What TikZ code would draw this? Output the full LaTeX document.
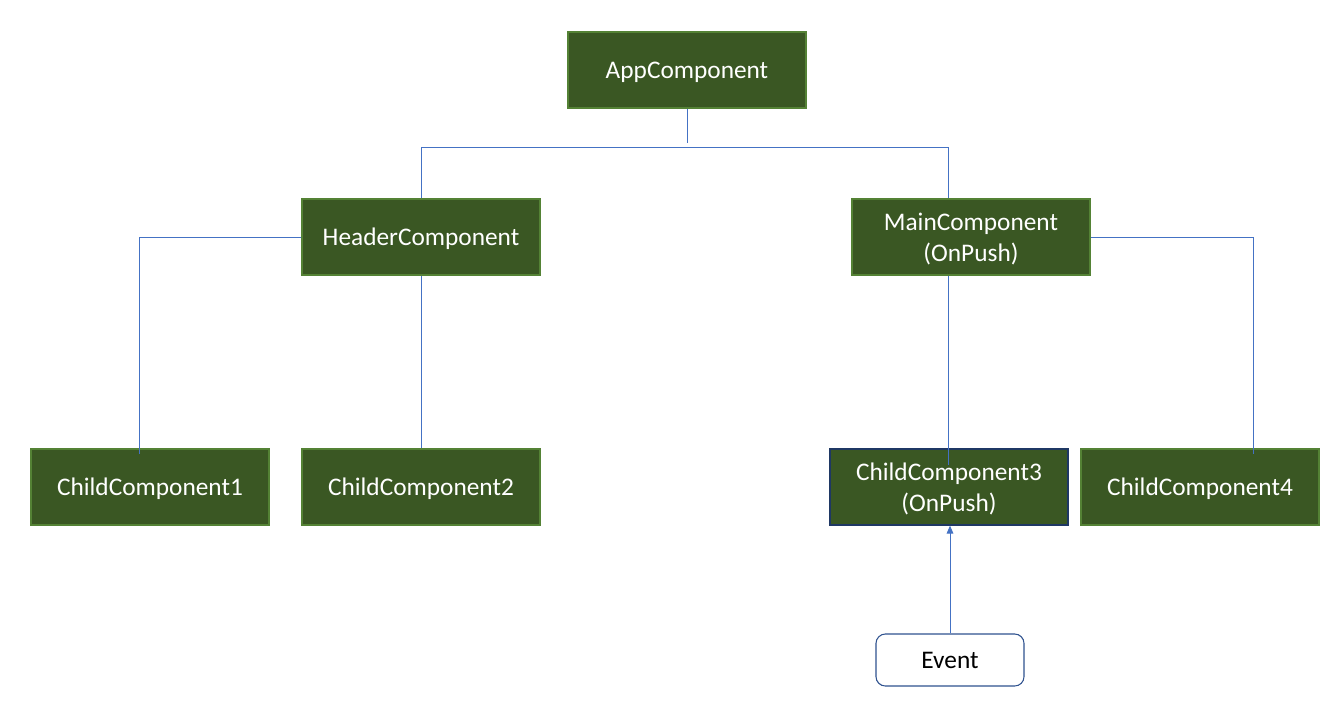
\documentclass[tikz,border=0pt]{standalone}
\usepackage{fontspec}
\setmainfont{Carlito}
\usetikzlibrary{arrows.meta}
\definecolor{boxfill}{HTML}{3A5723}
\definecolor{boxline}{HTML}{548235}
\definecolor{conn}{HTML}{4472C4}
\definecolor{navy}{HTML}{2F528F}
\definecolor{darknavy}{HTML}{1F3864}
\tikzset{
  comp/.style={draw=boxline, line width=0.9pt, fill=boxfill, text=white,
    minimum width=178.5pt, minimum height=57pt, inner sep=0pt, align=center,
    text depth=0pt, font=\fontsize{19}{23.5}\selectfont},
  eventbox/.style={draw=navy, line width=0.8pt, fill=white, text=black, rounded corners=7pt,
    minimum width=111pt, minimum height=39pt, inner sep=0pt, align=center,
    text depth=0pt, font=\fontsize{19}{23.5}\selectfont},
  wire/.style={draw=conn, line width=0.75pt},
}
\begin{document}
\begin{tikzpicture}[x=0.75pt, y=-0.75pt]
\useasboundingbox (0,0) rectangle (1333,704);
\node[comp] (app) at (687,70) {AppComponent};
\node[comp] (hdr) at (421,237) {HeaderComponent};
\node[comp] (main) at (971,237) {MainComponent\\(OnPush)};
\node[comp] (c1) at (150,487) {ChildComponent1};
\node[comp] (c2) at (421,487) {ChildComponent2};
\node[comp, draw=darknavy] (c3) at (949,487) {ChildComponent3\\(OnPush)};
\node[comp] (c4) at (1200,487) {ChildComponent4};
\node[eventbox] (ev) at (950,660) {Event};
\coordinate (jn) at (687,143);
\draw[wire] (app.south) -- (jn);
\draw[wire] (hdr.north) -- ++(0,-51) -| ([xshift=-17.25pt]main.north);
\draw[wire] (hdr.west) -| ([xshift=-8.25pt,yshift=-4.5pt]c1.north);
\draw[wire] (hdr.south) -- (c2.north);
\draw[wire] ([xshift=-17.25pt]main.south) -- ([xshift=-0.75pt,yshift=-12.75pt]c3.north);
\draw[wire] (main.east) -| ([xshift=39.75pt,yshift=-4.5pt]c4.north);
\draw[wire, -{Triangle[length=6pt,width=5pt]}] (ev.north) -- (ev.north |- c3.south);
\end{tikzpicture}
\end{document}
